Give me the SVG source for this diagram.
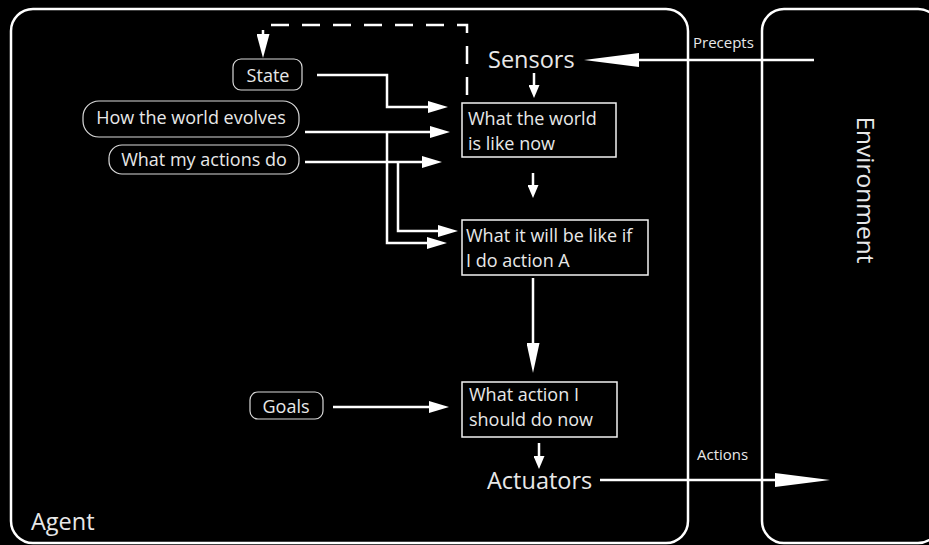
<svg xmlns="http://www.w3.org/2000/svg" width="929" height="545" viewBox="0 0 929 545">
<style>
  .frame{fill:none;stroke:#fff;stroke-width:2.5}
  .box{fill:#000;stroke:#f2f2f2;stroke-width:1.5}
  .pill{fill:#000;stroke:#d9d9d9;stroke-width:1.2}
  .t{font-family:"Open Sans","Noto Sans",sans-serif;fill:#e8e8e8}
  .n{font-size:18px}
  .big{font-size:23.5px}
  .small{font-size:15px}
  .c{fill:none;stroke:#fff;stroke-width:2.5}
  .dash{stroke-dasharray:18 13}
</style>
<defs>
  <marker id="mS" markerUnits="userSpaceOnUse" markerWidth="13" markerHeight="11" refX="0" refY="5.5" orient="auto"><path d="M0,0 L13,5.5 L0,11 z" fill="#fff"/></marker>
  <marker id="mM" markerUnits="userSpaceOnUse" markerWidth="20" markerHeight="12" refX="0" refY="6" orient="auto"><path d="M0,0 L20,6 L0,12 z" fill="#fff"/></marker>
  <marker id="mD" markerUnits="userSpaceOnUse" markerWidth="24" markerHeight="13" refX="0" refY="6.5" orient="auto"><path d="M0,0 L24,6.5 L0,13 z" fill="#fff"/></marker>
  <marker id="mL" markerUnits="userSpaceOnUse" markerWidth="30" markerHeight="13" refX="0" refY="6.5" orient="auto"><path d="M0,0 L30,6.5 L0,13 z" fill="#fff"/></marker>
  <marker id="mX" markerUnits="userSpaceOnUse" markerWidth="55" markerHeight="14" refX="0" refY="7" orient="auto"><path d="M0,0 L55,7 L0,14 z" fill="#fff"/></marker>
</defs>
<rect width="929" height="545" fill="#000"/>

<g id="agent">
  <rect class="frame" x="11" y="9" width="677" height="534" rx="22"/>
  <text class="t big" x="31" y="530">Agent</text>
</g>
<g id="environment">
  <rect class="frame" x="762" y="9" width="178" height="534" rx="22"/>
  <text class="t big" transform="translate(857,190) rotate(90)" text-anchor="middle" style="font-size:24.5px">Environment</text>
</g>

<g id="connectors">
  <path class="c" d="M814,60 H639" marker-end="url(#mX)"/>
  <text class="t small" x="693" y="48">Precepts</text>
  <path class="c" d="M534,73 V85" marker-end="url(#mS)"/>
  <path class="c" d="M533,173 V185" marker-end="url(#mS)"/>
  <path class="c" d="M317,75 H387 V107 H428" marker-end="url(#mM)"/>
  <path class="c" d="M305,132 H430" marker-end="url(#mM)"/>
  <path class="c" d="M305,162 H422" marker-end="url(#mM)"/>
  <path class="c" d="M387,132 V243 H427" marker-end="url(#mM)"/>
  <path class="c" d="M398,162 V231 H438" marker-end="url(#mM)"/>
  <path class="c" d="M533,278 V343" marker-end="url(#mL)"/>
  <path class="c" d="M333,407 H429" marker-end="url(#mM)"/>
  <path class="c" d="M539,443 V456" marker-end="url(#mS)"/>
  <path class="c" d="M600,480 H775" marker-end="url(#mX)"/>
  <text class="t small" x="697" y="460">Actions</text>
  <path class="c dash" d="M467,95 V25 H263 V34" marker-end="url(#mD)"/>
</g>

<g id="sensors">
  <text class="t big" x="488" y="68">Sensors</text>
</g>
<g id="state">
  <rect class="pill" x="233" y="59" width="69" height="31" rx="8"/>
  <text class="t n" x="268" y="82" text-anchor="middle">State</text>
</g>
<g id="evolves">
  <rect class="pill" x="83" y="101" width="216" height="36" rx="16"/>
  <text class="t n" x="191" y="124" text-anchor="middle">How the world evolves</text>
</g>
<g id="actionsdo">
  <rect class="pill" x="109" y="145" width="190" height="29" rx="13"/>
  <text class="t n" x="204" y="166" text-anchor="middle">What my actions do</text>
</g>
<g id="worldnow">
  <rect class="box" x="462" y="103" width="154" height="54"/>
  <text class="t n" x="468" y="125">What the world</text>
  <text class="t n" x="468" y="150">is like now</text>
</g>
<g id="willbe">
  <rect class="box" x="462" y="220" width="186" height="55"/>
  <text class="t n" x="466" y="242">What it will be like if</text>
  <text class="t n" x="466" y="267">I do action A</text>
</g>
<g id="goals">
  <rect class="pill" x="250" y="392" width="73" height="27" rx="8"/>
  <text class="t n" x="286" y="413" text-anchor="middle">Goals</text>
</g>
<g id="whataction">
  <rect class="box" x="462" y="382" width="155" height="55"/>
  <text class="t n" x="469" y="401">What action I</text>
  <text class="t n" x="469" y="426">should do now</text>
</g>
<g id="actuators">
  <text class="t big" x="487" y="489">Actuators</text>
</g>
</svg>
